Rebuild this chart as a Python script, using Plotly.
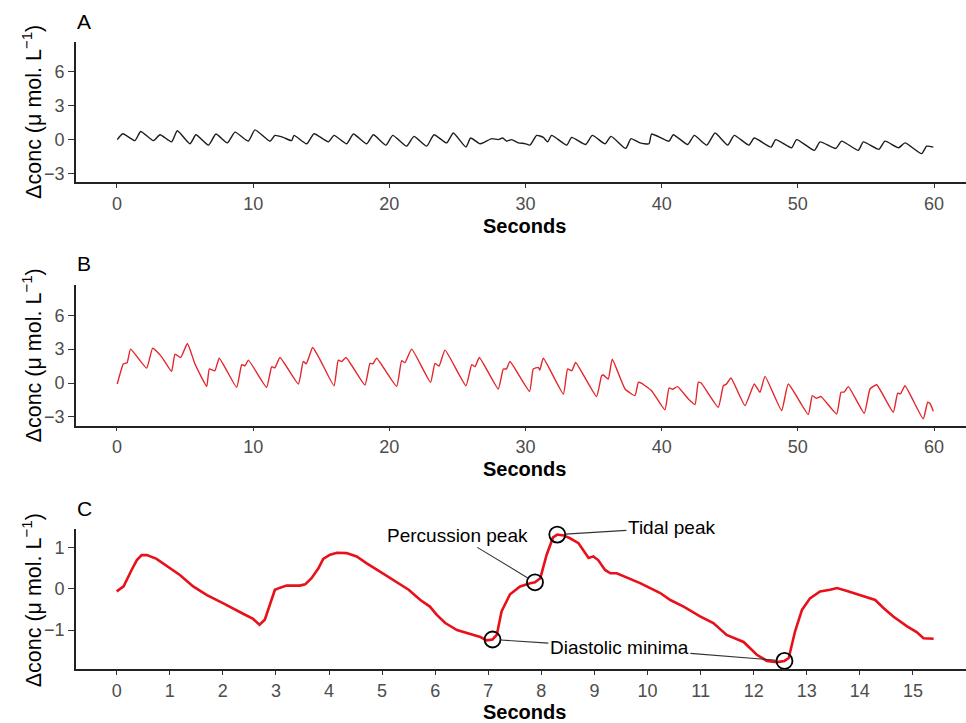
import plotly.graph_objects as go

# ---------------- data ----------------
a_t = [0.02, 0.42, 1.32, 1.74, 2.67, 3.16, 4.01, 4.43, 5.36, 5.80, 6.71, 7.27, 8.10, 8.67,
       9.65, 10.13, 11.24, 11.60, 12.20, 12.83, 13.00, 13.93, 14.47, 15.52, 15.94, 16.87,
       17.36, 18.34, 18.83, 19.75, 20.25, 21.27, 21.81, 22.74, 23.28, 24.21, 24.70, 25.63,
       25.97, 26.66, 27.02, 27.52, 28.00, 28.32, 28.61, 28.98, 29.47, 29.96, 30.33, 30.82,
       31.31, 31.63, 31.92, 33.03, 33.39, 34.42, 34.91, 35.84, 36.28, 37.36, 37.75, 38.41,
       39.07, 39.26, 40.54, 40.85, 41.91, 42.40, 43.31, 43.92, 44.85, 45.33, 46.41, 46.80,
       48.03, 48.37, 49.54, 49.91, 51.21, 51.63, 52.78, 53.22, 54.44, 54.81, 55.96, 56.40,
       57.40, 57.87, 59.09, 59.46, 59.95]
a_v = [0.00, 0.52, -0.09, 0.72, -0.09, 0.43, -0.20, 0.78, -0.37, 0.43, -0.49, 0.49, -0.29, 0.66,
       -0.14, 0.86, -0.14, 0.37, 0.20, -0.09, 0.37, -0.37, 0.52, -0.20, 0.37, -0.37,
       0.49, -0.37, 0.43, -0.49, 0.37, -0.58, 0.29, -0.58, 0.43, -0.29, 0.58, -0.66,
       0.14, -0.37, -0.20, 0.09, 0.00, 0.14, -0.14, 0.00, -0.29, -0.35, -0.49, 0.37,
       0.20, -0.20, 0.37, -0.49, 0.20, -0.43, 0.37, -0.37, 0.29, -0.78, 0.09, -0.29,
       -0.37, 0.49, -0.14, 0.43, -0.43, 0.37, -0.49, 0.58, -0.49, 0.37, -0.49, 0.14,
       -0.66, 0.00, -0.72, 0.00, -0.95, -0.20, -0.78, -0.14, -0.95, -0.20, -0.86, -0.14,
       -0.72, -0.29, -1.24, -0.58, -0.66]

b_t = [0.02, 0.46, 0.62, 0.75, 1.00, 2.18, 2.62, 3.28, 4.01, 4.26, 4.68, 5.17, 5.73, 6.59,
       6.78, 7.19, 7.51, 8.79, 9.16, 9.40, 9.65, 10.99, 11.36, 11.60, 11.97, 13.32, 13.68,
       13.90, 14.37, 14.90, 15.94, 16.25, 16.50, 16.82, 18.21, 18.58, 18.80, 19.07, 20.54,
       20.90, 21.15, 21.64, 23.03, 23.35, 23.65, 24.09, 25.63, 26.05, 26.30, 26.61, 28.00,
       28.37, 28.60, 28.86, 30.30, 30.57, 30.94, 31.05, 31.31, 32.78, 33.09, 33.40, 33.68,
       35.22, 35.59, 35.72, 36.08, 36.37, 37.31, 38.04, 38.29, 38.50, 39.26, 40.24, 40.54,
       40.80, 41.17, 41.96, 42.45, 42.69, 42.90, 44.16, 44.53, 44.75, 45.09, 46.12, 46.80,
       47.22, 47.59, 48.81, 49.30, 50.77, 51.06, 51.35, 51.70, 52.85, 53.17, 53.40, 53.71,
       54.88, 55.30, 55.79, 57.01, 57.33, 57.55, 57.87, 59.21, 59.53, 59.70, 59.95]
b_v = [-0.09, 1.68, 1.75, 1.80, 3.00, 1.32, 3.09, 2.32, 1.03, 2.56, 2.26, 3.50, 1.68, -0.29,
       1.24, 1.09, 2.20, -0.38, 1.62, 1.53, 2.03, -0.38, 1.44, 1.35, 2.26, -0.09, 1.91,
       1.70, 3.15, 2.10, -0.24, 2.03, 1.90, 2.26, -0.18, 1.74, 1.70, 2.20, -0.29,
       1.97, 1.80, 3.00, 0.06, 1.74, 1.50, 2.91, -0.24, 1.62, 1.45, 2.26, -0.53,
       1.24, 1.25, 1.91, -0.74, 1.24, 1.38, 1.15, 2.20, -0.97, 1.24, 1.09, 1.82,
       -1.20, 0.65, 0.71, 0.35, 2.10, -0.53, -1.12, 0.06, 0.00, -0.68, -2.38, -0.44,
       -0.55, -0.32, -1.41, -1.91, 0.06, 0.00, -2.15, -0.24, -0.10, 0.44, -2.00, -0.09,
       -0.82, 0.59, -2.44, -0.09, -2.79, -1.12, -1.35, -1.20, -2.74, -0.82, -0.80, -0.32,
       -2.68, -0.53, -0.15, -2.59, -0.91, -0.95, -0.24, -3.18, -1.71, -1.80, -2.50]

c_t = [0.00, 0.13, 0.28, 0.38, 0.47, 0.57, 0.75, 1.00, 1.19, 1.44, 1.70, 2.01, 2.20, 2.39,
       2.57, 2.69, 2.79, 2.89, 2.98, 3.08, 3.20, 3.45, 3.55, 3.67, 3.80, 3.89, 4.02, 4.15,
       4.33, 4.52, 4.71, 4.96, 5.15, 5.34, 5.50, 5.72, 5.90, 6.03, 6.19, 6.41, 6.60, 6.85,
       6.97, 7.08, 7.16, 7.25, 7.41, 7.60, 7.79, 7.88, 7.98, 8.10, 8.22, 8.30, 8.42, 8.54,
       8.70, 8.89, 8.98, 9.07, 9.20, 9.30, 9.42, 9.61, 9.86, 10.24, 10.43, 10.68, 10.99,
       11.24, 11.49, 11.81, 12.06, 12.25, 12.44, 12.58, 12.66, 12.78, 12.91, 13.06, 13.25,
       13.44, 13.57, 13.76, 14.01, 14.29, 14.45, 14.63, 14.89, 15.07, 15.20, 15.39]
c_v = [-0.06, 0.06, 0.46, 0.70, 0.82, 0.82, 0.73, 0.50, 0.34, 0.06, -0.15, -0.35, -0.49, -0.61,
       -0.73, -0.87, -0.75, -0.39, -0.02, 0.03, 0.08, 0.08, 0.11, 0.26, 0.50, 0.73, 0.83, 0.88,
       0.87, 0.79, 0.62, 0.42, 0.26, 0.10, -0.02, -0.27, -0.43, -0.63, -0.83, -1.00, -1.08, -1.17,
       -1.25, -1.23, -1.12, -0.55, -0.13, 0.06, 0.14, 0.16, 0.26, 0.83, 1.25, 1.32, 1.30, 1.23,
       1.11, 0.75, 0.79, 0.70, 0.46, 0.38, 0.38, 0.28, 0.14, -0.10, -0.27, -0.43, -0.67,
       -0.83, -1.12, -1.29, -1.60, -1.75, -1.78, -1.75, -1.68, -1.03, -0.51, -0.23, -0.06,
       -0.02, 0.02, -0.05, -0.16, -0.27, -0.47, -0.67, -0.91, -1.05, -1.20, -1.21]

# annotated points in panel C
mark_t = [7.08, 7.88, 8.30, 12.58]
mark_v = [-1.23, 0.16, 1.32, -1.75]
mark_label = ["Diastolic minima", "Percussion peak", "Tidal peak", "Diastolic minima"]
label_t = [9.47, 6.42, 10.45, 9.47]
label_v = [-1.43, 1.30, 1.49, -1.43]

xticks_ab = [0, 10, 20, 30, 40, 50, 60]
yticks_ab = [-3, 0, 3, 6]
xticks_c = list(range(0, 16))
yticks_c = [-1, 0, 1]

# ---------------- figure ----------------
W, H = 966, 723
L = 76
FONT = "Liberation Sans, Arial, Helvetica, sans-serif"
NARROW = "Liberation Sans Narrow, Arial Narrow, Liberation Sans, Arial, sans-serif"

fig = go.Figure()
fig.add_trace(go.Scatter(x=a_t, y=a_v, mode="lines",
                         line=dict(color="#1c1c1c", width=1.4, shape="spline", smoothing=0.5),
                         xaxis="x", yaxis="y", showlegend=False, hoverinfo="skip"))
fig.add_trace(go.Scatter(x=b_t, y=b_v, mode="lines",
                         line=dict(color="#e3262b", width=1.4, shape="spline", smoothing=0.4),
                         xaxis="x2", yaxis="y2", showlegend=False, hoverinfo="skip"))
fig.add_trace(go.Scatter(x=c_t, y=c_v, mode="lines", line=dict(color="#e8101a", width=2.6),
                         xaxis="x3", yaxis="y3", showlegend=False, hoverinfo="skip"))
fig.add_trace(go.Scatter(x=mark_t, y=mark_v, mode="markers", cliponaxis=False,
                         marker=dict(symbol="circle-open", size=16, color="black",
                                     line=dict(width=1.8, color="black")),
                         xaxis="x3", yaxis="y3", showlegend=False, hoverinfo="skip"))


def pix_y(py):
    return 1 - py / H


def pix_x(px):
    return (px - L) / (W - L)


base_axis = dict(showline=True, linecolor="#222222", linewidth=1.8, ticks="outside",
                 tickwidth=1.2, tickcolor="#333333", showgrid=False, zeroline=False,
                 tickfont=dict(family=FONT, size=18, color="#4d4d4d"), mirror=False,
                 fixedrange=True)
xax = dict(base_axis, ticklen=4)
yax = dict(base_axis, ticklen=6)

fig.update_layout(
    width=W, height=H,
    margin=dict(l=L, r=0, t=0, b=0),
    paper_bgcolor="white", plot_bgcolor="white",
    font=dict(family=FONT),
    xaxis=dict(domain=[0, 1], range=[-3.01, 62.35], tickvals=xticks_ab, anchor="y", **xax),
    yaxis=dict(domain=[pix_y(182.7), pix_y(41.7)], range=[-3.765, 8.665], tickvals=yticks_ab,
               anchor="x", **yax),
    xaxis2=dict(domain=[0, 1], range=[-3.01, 62.35], tickvals=xticks_ab, anchor="y2", **xax),
    yaxis2=dict(domain=[pix_y(426.7), pix_y(286)], range=[-3.765, 8.665], tickvals=yticks_ab,
                anchor="x2", **yax),
    xaxis3=dict(domain=[0, 1], range=[-0.767, 16.0], tickvals=xticks_c, anchor="y3", **xax),
    yaxis3=dict(domain=[pix_y(671), pix_y(530.7)], range=[-1.95, 1.45], tickvals=yticks_c,
                anchor="x3", **yax),
)

ann = []
ytitle = "Δconc (μ mol. L<sup>−1</sup>)"
for letter, ly, ty, sy in [("A", 22, 112.2, 226.5), ("B", 264.5, 356.4, 470), ("C", 510, 602, 714)]:
    ann.append(dict(text=letter, xref="paper", yref="paper", x=pix_x(84), y=pix_y(ly),
                    xanchor="center", yanchor="middle", showarrow=False,
                    font=dict(family=FONT, size=21, color="black")))
    ann.append(dict(text=ytitle, xref="paper", yref="paper", x=pix_x(32), y=pix_y(ty),
                    xanchor="center", yanchor="middle", textangle=-90, showarrow=False,
                    font=dict(family=FONT, size=21.5, color="black")))
    ann.append(dict(text="<b>Seconds</b>", xref="paper", yref="paper", x=pix_x(524.5), y=pix_y(sy),
                    xanchor="center", yanchor="middle", showarrow=False,
                    font=dict(family=FONT, size=20, color="black")))

seen = set()
for t, v, lab, lt, lv in zip(mark_t, mark_v, mark_label, label_t, label_v):
    first = lab not in seen
    seen.add(lab)
    ann.append(dict(x=t, y=v, xref="x3", yref="y3", ax=lt, ay=lv, axref="x3", ayref="y3",
                    text=lab if first else " ", showarrow=True, arrowhead=0, arrowwidth=1.1,
                    arrowcolor="#333333", standoff=8,
                    width=None if first else 139, height=None if first else 18,
                    font=dict(family=NARROW, size=19, color="black")))

fig.update_layout(annotations=ann)

fig.write_html("out.html", config={"displayModeBar": False},
               post_script="document.body.style.margin='0px';document.body.style.overflow='hidden';")
